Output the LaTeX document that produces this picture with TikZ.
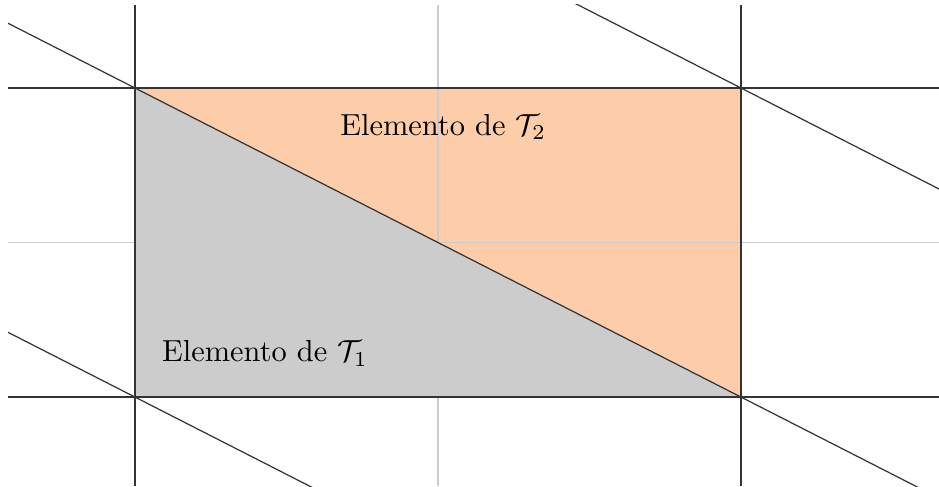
\documentclass[tikz,border=0pt]{standalone}
\usepackage{amsmath}
\usepackage{amssymb}
\usepackage{tikz}
\usetikzlibrary{positioning}
\definecolor{elemorange}{RGB}{253,204,168}

\begin{document}
\begin{tikzpicture}[
  x=3.5cm, y=3.57cm,
  malla/.style={draw=black!80, line width=0.4pt},
  mallafina/.style={draw=black!20, line width=0.4pt},
  tri1/.style={fill=black!20},
  tri2/.style={fill=elemorange},
  etq/.style={font=\normalsize, inner sep=0pt},
]
\useasboundingbox (-0.4455,-0.288) rectangle (2.6535,1.2848);

\coordinate (a) at (0,0);
\coordinate (b) at (2,0);
\coordinate (c) at (2,1);
\coordinate (d) at (0,1);

% ---- the two elements ----
\fill[tri1] (a) -- (b) -- (d) -- cycle;
\fill[tri2] (d) -- (b) -- (c) -- cycle;

% ---- grid ----
\draw[mallafina] (-0.419,0.5) -- (2.6535,0.5);
\draw[mallafina] (1,-0.288) -- (1,1.269);
\foreach \y in {0,1}
  \draw[malla] (-0.419,\y) -- (2.6535,\y);
\foreach \x in {0,2}
  \draw[malla] (\x,-0.288) -- (\x,1.269);

% ---- diagonals ----
\begin{scope}
  \clip (-0.419,-0.288) rectangle (2.6535,1.269);
  \foreach \c in {0,1,2}
    \draw[malla] (-1,\c+0.5) -- (4,\c-2);
\end{scope}

\node[etq] (t2) at (1.017,0.874) {Elemento de $\mathcal{T}_2$};
\node[etq] (t1) at (0.429,0.142) {Elemento de $\mathcal{T}_1$};

\end{tikzpicture}
\end{document}
